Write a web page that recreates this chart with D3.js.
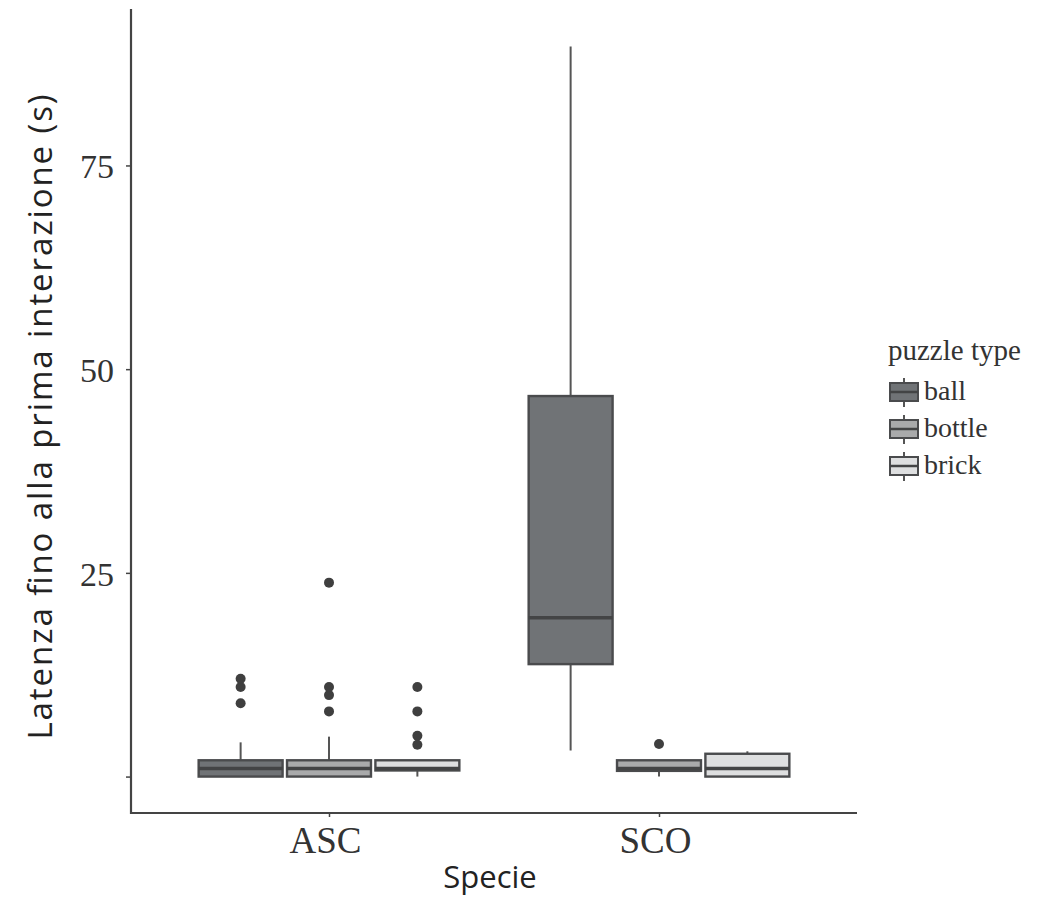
<!DOCTYPE html>
<html>
<head>
<meta charset="utf-8">
<script src="https://cdn.jsdelivr.net/npm/d3@7"></script>
<style>
  body { margin: 0; background: #fff; }
  svg { display: block; }
  .tick-lab { font-family: 'Liberation Serif', 'Times New Roman', serif; fill: #333; }
  .title { font-family: 'Open Sans', sans-serif; fill: #222; }
</style>
</head>
<body>
<svg width="1051" height="899"></svg>
<script>
// categories
const species = ['ASC', 'SCO'];
const puzzles = ['ball', 'bottle', 'brick'];
const yTicks = [0, 25, 50, 75];
const yTickLabels = ['', '25', '50', '75'];

// box stats: [min, q1, median, q3, max]
const ascStats = [
    [0, 0, 1, 2, 4.2],
    [0, 0, 1, 2, 4.9],
    [0, 0.75, 1, 2, 2]
];
const scoStats = [
    [3.2, 13.8, 19.5, 46.7, 89.6],
    [0, 0.7, 1, 2, 2],
    [0, 0, 1, 2.8, 3.1]
];
// outliers
const ascOutliers = [
    [9, 11, 12],
    [8, 10, 11, 23.8],
    [3.9, 5, 8, 11]
];
const scoOutliers = [
    [],
    [4],
    []
];

const fills = ['#707376', '#a9aaab', '#dedfe0'];

const svg = d3.select('svg');
const margin = { left: 131, right: 194, top: 9, bottom: 86 };
const width = +svg.attr('width');
const height = +svg.attr('height');
const innerWidth = width - margin.left - margin.right;
const innerHeight = height - margin.top - margin.bottom;

const rows = [];
species.forEach((s, i) => {
    const stats = i === 0 ? ascStats : scoStats;
    const outs = i === 0 ? ascOutliers : scoOutliers;
    puzzles.forEach((p, j) => {
        const [min, q1, med, q3, max] = stats[j];
        rows.push({ species: s, puzzle: p, min, q1, med, q3, max, outliers: outs[j], fill: fills[j] });
    });
});

const xScale = d3.scalePoint()
    .domain(species)
    .range([0, innerWidth])
    .padding(0.6);
const step = xScale.step();

const dodge = d3.scaleBand()
    .domain(puzzles)
    .range([-step * 0.395, step * 0.395])
    .paddingInner(0.05);

const yScale = d3.scaleLinear()
    .domain([-4.47, 94.2])
    .range([innerHeight, 0]);

const g = svg.append('g')
    .attr('transform', `translate(${margin.left},${margin.top})`);

// axes
const yAxis = d3.axisLeft(yScale)
    .tickValues(yTicks)
    .tickFormat((d, i) => yTickLabels[i])
    .tickSize(5)
    .tickPadding(12);
const yAxisG = g.append('g').call(yAxis);
yAxisG.select('.domain').remove();
yAxisG.selectAll('line').attr('stroke', '#444').attr('stroke-width', 1.5);
yAxisG.selectAll('text').attr('class', 'tick-lab').attr('font-size', 34).attr('dy', '0.36em');

const xAxis = d3.axisBottom(xScale).tickSize(4).tickPadding(10);
const xAxisG = g.append('g')
    .attr('transform', `translate(0,${innerHeight})`)
    .call(xAxis);
xAxisG.select('.domain').remove();
xAxisG.selectAll('line').attr('stroke', '#444').attr('stroke-width', 1.5);
xAxisG.selectAll('text').attr('class', 'tick-lab').attr('font-size', 37).attr('dy', '0.71em')
    .attr('x', -4);

g.append('line')
    .attr('x1', 0).attr('x2', 0).attr('y1', 0).attr('y2', innerHeight + 1)
    .attr('stroke', '#444').attr('stroke-width', 2.2);
g.append('line')
    .attr('x1', -1).attr('x2', innerWidth).attr('y1', innerHeight).attr('y2', innerHeight)
    .attr('stroke', '#444').attr('stroke-width', 2.2);

// boxes
const boxG = g.selectAll('.box').data(rows).enter().append('g')
    .attr('class', 'box')
    .attr('transform', d => `translate(${xScale(d.species) + dodge(d.puzzle)},0)`);
const bw = dodge.bandwidth();

boxG.append('line')
    .attr('x1', bw / 2).attr('x2', bw / 2)
    .attr('y1', d => yScale(d.max)).attr('y2', d => yScale(d.q3))
    .attr('stroke', '#555').attr('stroke-width', 2);
boxG.append('line')
    .attr('x1', bw / 2).attr('x2', bw / 2)
    .attr('y1', d => yScale(d.q1)).attr('y2', d => yScale(d.min))
    .attr('stroke', '#555').attr('stroke-width', 2);
boxG.append('rect')
    .attr('x', 0).attr('width', bw)
    .attr('y', d => yScale(d.q3))
    .attr('height', d => yScale(d.q1) - yScale(d.q3))
    .attr('fill', d => d.fill)
    .attr('stroke', '#4a4b4d').attr('stroke-width', 2.4);
boxG.append('line')
    .attr('x1', 0).attr('x2', bw)
    .attr('y1', d => yScale(d.med)).attr('y2', d => yScale(d.med))
    .attr('stroke', '#434445').attr('stroke-width', 3.5);
boxG.selectAll('circle').data(d => d.outliers).enter().append('circle')
    .attr('cx', bw / 2)
    .attr('cy', d => yScale(d))
    .attr('r', 5)
    .attr('fill', '#3f3f3f');

// axis titles
svg.append('text')
    .attr('class', 'title')
    .attr('x', 490)
    .attr('y', 888)
    .attr('text-anchor', 'middle')
    .attr('font-size', 31)
    .text('Specie');

svg.append('text')
    .attr('class', 'title')
    .attr('transform', 'translate(52,417) rotate(-90)')
    .attr('text-anchor', 'middle')
    .attr('font-size', 33)
    .attr('textLength', 645)
    .attr('lengthAdjust', 'spacing')
    .text('Latenza fino alla prima interazione (s)');

// legend
const legend = svg.append('g').attr('transform', 'translate(888,0)');
legend.append('text')
    .attr('class', 'tick-lab')
    .attr('x', 0).attr('y', 360)
    .attr('font-size', 29)
    .attr('fill', '#333')
    .text('puzzle type');
const keyG = legend.selectAll('.key').data(puzzles).enter().append('g')
    .attr('class', 'key')
    .attr('transform', (d, i) => `translate(0,${392 + i * 37})`);
keyG.append('line')
    .attr('x1', 16).attr('x2', 16).attr('y1', -14).attr('y2', 15)
    .attr('stroke', '#555').attr('stroke-width', 2);
keyG.append('rect')
    .attr('x', 2).attr('y', -9).attr('width', 28).attr('height', 18)
    .attr('fill', (d, i) => fills[i])
    .attr('stroke', '#4a4b4d').attr('stroke-width', 2);
keyG.append('line')
    .attr('x1', 2).attr('x2', 30).attr('y1', 0).attr('y2', 0)
    .attr('stroke', '#434445').attr('stroke-width', 2.5);
keyG.append('text')
    .attr('class', 'tick-lab')
    .attr('x', 36).attr('y', 8)
    .attr('font-size', 28)
    .text(d => d);
</script>
</body>
</html>
